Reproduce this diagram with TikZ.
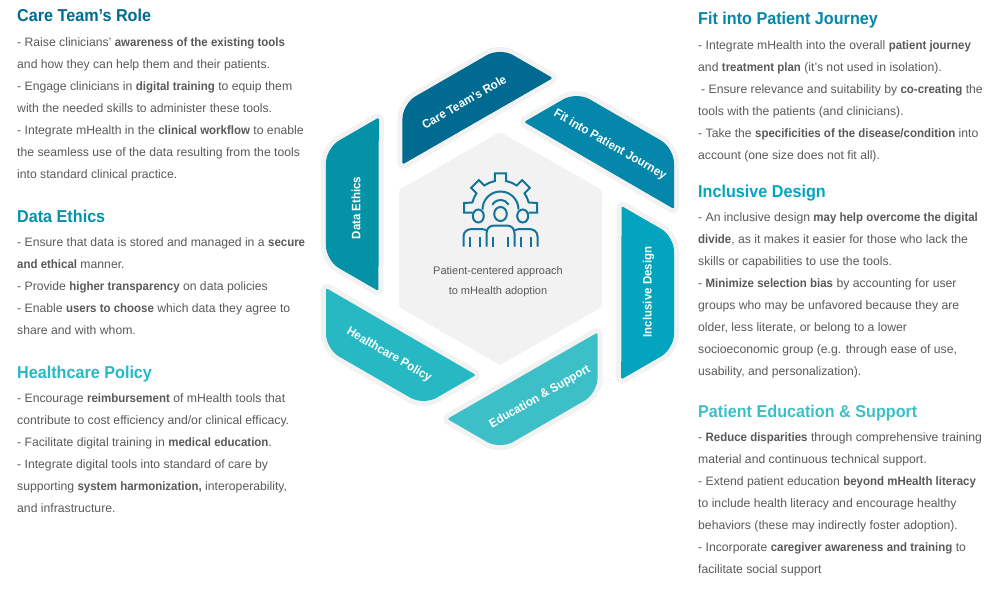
\documentclass[tikz,border=0pt]{standalone}
\usepackage{fontspec}
\setmainfont{Liberation Sans}[BoldFeatures={FakeStretch=0.94}]
\usepackage{xcolor}
\definecolor{carecol}{HTML}{006A90}
\definecolor{fitcol}{HTML}{0487AA}
\definecolor{inclcol}{HTML}{02A5BD}
\definecolor{educol}{HTML}{3DBFC8}
\definecolor{policol}{HTML}{26B9C3}
\definecolor{ethicol}{HTML}{0592A7}
\definecolor{halocol}{HTML}{F2F2F2}
\definecolor{bodycol}{HTML}{58595B}
\tikzset{
    headtext/.style={anchor=base west, inner sep=0pt, font=\fontsize{17.2}{20}\selectfont\bfseries},
    bodytext/.style={anchor=north west, inner sep=0pt, align=left, text=bodycol, font=\fontsize{12.2}{22}\selectfont},
    seglabel/.style={text=white, inner sep=0pt, font=\fontsize{12.2}{14}\selectfont\bfseries},
    segment/.style={preaction={draw=halocol, line width=10pt, line join=round}},
    iconline/.style={draw=carecol!93, line width=2pt}
}

\begin{document}
\begin{tikzpicture}[x=1pt, y=-1pt]
    \useasboundingbox (0, 0) rectangle (991, 594);
    \coordinate (ctr) at (500, 248.5);

    % ring of six segments, all turned from the first one
    \foreach \segang/\segcol in {0/fitcol, -60/inclcol, -120/educol, -180/policol, -240/ethicol, -300/carecol}
        \fill[segment, fill=\segcol, rotate around={\segang:(ctr)}]
            (599, 165.5) [rounded corners=1.5pt] -- (524, 122) [rounded corners=15pt] -- (576.5, 91.7)
            -- (674, 148) [rounded corners=1.5pt] -- (674, 209) -- cycle;

    % middle hexagon
    \fill[halocol, rounded corners=2pt] (500, 132) -- (602, 190) -- (602, 307) -- (500, 365)
        -- (399, 307) -- (399, 190) -- cycle;

    \node[seglabel, rotate=30] (carelabel) at (464, 102) {Care Team's Role};
    \node[seglabel, rotate=-30] (fitlabel) at (610, 145) {Fit into Patient Journey};
    \node[seglabel, rotate=90] (incllabel) at (648.5, 292) {Inclusive Design};
    \node[seglabel, rotate=30] (edulabel) at (540, 397) {Education \& Support};
    \node[seglabel, rotate=-30] (polilabel) at (389, 355) {Healthcare Policy};
    \node[seglabel, rotate=90] (ethilabel) at (356, 208) {Data Ethics};

    % icon: gear with three people
    \begin{scope}[shift={(500.5, 209.5)}, y=1pt]
        \draw[iconline] (-28, -3) -- (-36.5, -3) -- (-36.5, 6.5) -- (166:29)
            arc[start angle=166, end angle=146, radius=29] -- (143.7:36.5) -- (126.3:36.5) -- (124:29)
            arc[start angle=124, end angle=101, radius=29] -- (98.7:36.5) -- (81.3:36.5) -- (79:29)
            arc[start angle=79, end angle=56, radius=29] -- (53.7:36.5) -- (36.3:36.5) -- (34:29)
            arc[start angle=34, end angle=14, radius=29] -- (36.5, 6.5) -- (36.5, -3) -- (28, -3);
        \draw[iconline] (-18, 0) arc[start angle=180, end angle=0, radius=18];
        \draw[iconline] (150:9.5) arc[start angle=150, end angle=30, radius=9.5];
        \draw[iconline] (-22.2, -6.5) ellipse[x radius=5.5, y radius=6.5];
        \draw[iconline] (0, -4.5) ellipse[x radius=6.3, y radius=7];
        \draw[iconline] (22.2, -6.5) ellipse[x radius=5.5, y radius=6.5];
        \draw[iconline] (-37, -37.2) -- (-37, -27) .. controls (-37, -22) and (-33, -19.5) .. (-28, -19.5)
            -- (-20, -19.5) .. controls (-18, -19.5) and (-16, -20) .. (-14.5, -20.5);
        \draw[iconline] (14.5, -20.5) .. controls (16, -20) and (18, -19.5) .. (20, -19.5)
            -- (28, -19.5) .. controls (33, -19.5) and (37, -22) .. (37, -27) -- (37, -37.2);
        \draw[iconline] (-14, -37.2) -- (-14, -24) .. controls (-14, -19) and (-11, -16) .. (-6, -16)
            -- (6, -16) .. controls (11, -16) and (14, -19) .. (14, -24) -- (14, -37.2);
        \foreach \armx in {-30.5, -20.5, -7.5, 7.5, 20.5, 30.5}
            \draw[iconline] (\armx, -37.2) -- (\armx, -27);
    \end{scope}

    \node[align=center, text=bodycol, inner sep=0pt, font=\fontsize{11}{20}\selectfont] (midtext) at (498, 282)
        {Patient-centered approach\\to mHealth adoption};

    % left column
    \node[headtext, text=carecol] (carehead) at (17, 22) {Care Team’s Role};
    \node[bodytext] (caretext) at (17, 37.5) {- Raise clinicians’ \textbf{awareness of the existing tools}\\
        and how they can help them and their patients.\\
        - Engage clinicians in \textbf{digital training} to equip them\\
        with the needed skills to administer these tools.\\
        - Integrate mHealth in the \textbf{clinical workflow} to enable\\
        the seamless use of the data resulting from the tools\\
        into standard clinical practice.};
    \node[headtext, text=ethicol] (ethihead) at (17, 222) {Data Ethics};
    \node[bodytext] (ethitext) at (17, 237.5) {- Ensure that data is stored and managed in a \textbf{secure}\\
        \textbf{and ethical} manner.\\
        - Provide \textbf{higher transparency} on data policies\\
        - Enable \textbf{users to choose} which data they agree to\\
        share and with whom.};
    \node[headtext, text=policol] (polihead) at (17, 378) {Healthcare Policy};
    \node[bodytext] (politext) at (17, 393.5) {- Encourage \textbf{reimbursement} of mHealth tools that\\
        contribute to cost efficiency and/or clinical efficacy.\\
        - Facilitate digital training in \textbf{medical education}.\\
        - Integrate digital tools into standard of care by\\
        supporting \textbf{system harmonization,} interoperability,\\
        and infrastructure.};

    % right column
    \node[headtext, text=fitcol] (fithead) at (698, 25) {Fit into Patient Journey};
    \node[bodytext] (fittext) at (698, 40.5) {- Integrate mHealth into the overall \textbf{patient journey}\\
        and \textbf{treatment plan} (it’s not used in isolation).\\
        \hspace{3pt}- Ensure relevance and suitability by \textbf{co-creating} the\\
        tools with the patients (and clinicians).\\
        - Take the \textbf{specificities of the disease/condition} into\\
        account (one size does not fit all).};
    \node[headtext, text=inclcol] (inclhead) at (698, 197) {Inclusive Design};
    \node[bodytext] (incltext) at (698, 212.5) {- An inclusive design \textbf{may help overcome the digital}\\
        \textbf{divide}, as it makes it easier for those who lack the\\
        skills or capabilities to use the tools.\\
        - \textbf{Minimize selection bias} by accounting for user\\
        groups who may be unfavored because they are\\
        older, less literate, or belong to a lower\\
        socioeconomic group (e.g. through ease of use,\\
        usability, and personalization).};
    \node[headtext, text=educol] (eduhead) at (698, 417) {Patient Education \& Support};
    \node[bodytext] (edutext) at (698, 432.5) {- \textbf{Reduce disparities} through comprehensive training\\
        material and continuous technical support.\\
        - Extend patient education \textbf{beyond mHealth literacy}\\
        to include health literacy and encourage healthy\\
        behaviors (these may indirectly foster adoption).\\
        - Incorporate \textbf{caregiver awareness and training} to\\
        facilitate social support};
\end{tikzpicture}
\end{document}
